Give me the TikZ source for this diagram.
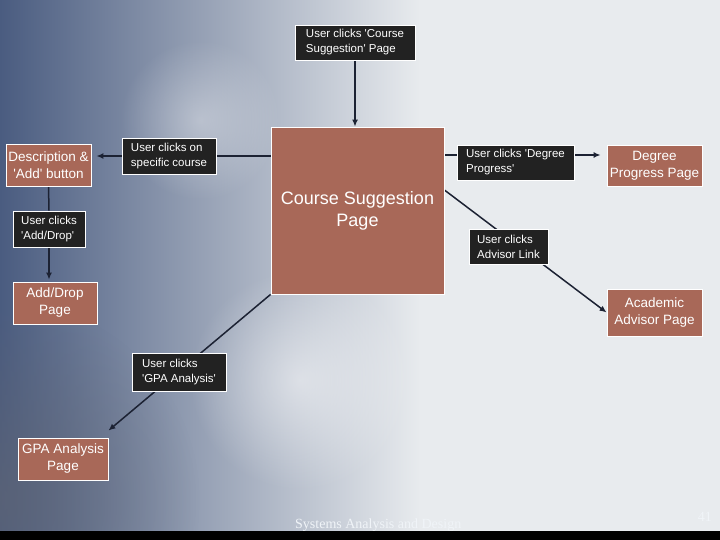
\documentclass[tikz,border=0pt]{standalone}
\usepackage{fontspec}
\setmainfont{Liberation Sans}
\newfontfamily\footserif{Liberation Serif}
\usetikzlibrary{arrows.meta,calc,fadings}
\definecolor{boxred}{HTML}{A86858}
\definecolor{lblfill}{HTML}{222222}
\definecolor{lnc}{HTML}{1C2233}
\definecolor{bglight}{HTML}{E8EBEE}
\definecolor{bgdark}{HTML}{4A5C80}
\definecolor{bgblue}{HTML}{9CB4D2}
\definecolor{bggray}{HTML}{5E6474}
\newcommand\myq{\textquotesingle}
\tikzfading[name=softcirc, inner color=transparent!0, outer color=transparent!100]
\pgfdeclarelayer{bglayer}
\pgfdeclarelayer{linelayer}
\pgfsetlayers{bglayer,linelayer,main}
\tikzset{
  pagebox/.style={draw=white, line width=0.8pt, fill=boxred, text=white,
    font=\fontsize{13.5}{17}\selectfont, align=center, inner sep=0pt},
  lblbox/.style={draw=white, line width=0.8pt, fill=lblfill, text=white,
    font=\fontsize{11.5}{15}\selectfont, align=left, inner sep=0pt},
  conn/.style={draw=lnc, line width=1.5pt},
  arr/.style={conn, -{Latex[length=7pt,width=6pt]}}
}
\begin{document}
\begin{tikzpicture}[x=1pt,y=-1pt]
\useasboundingbox (0,0) rectangle (720,540);
\begin{pgfonlayer}{bglayer}
  \begin{scope}
  \clip (0,0) rectangle (720,531);
  \fill[bglight] (0,0) rectangle (720,540);
  \shade[left color=bgdark, middle color=bgblue, right color=bglight] (0,0) rectangle (420,531);
  \fill[bggray, opacity=0.7, path fading=softcirc] (0,500) circle[radius=200];
  \fill[white, opacity=0.5, path fading=softcirc] (300,380) circle[radius=110];
  \fill[white, opacity=0.35, path fading=softcirc] (200,120) circle[radius=80];
  \end{scope}
  \fill[black] (0,531) rectangle (720,540);
\end{pgfonlayer}

% nodes
\node[lblbox, minimum width=120pt, minimum height=35pt] (top) at (355,42.5)
  {User clicks \myq Course\\Suggestion\myq{} Page};
\node[pagebox, minimum width=173pt, minimum height=167pt,
  font=\fontsize{18}{22}\selectfont] (cs) at (357.5,210.5) {Course Suggestion\\Page};
\node[lblbox, minimum width=94pt, minimum height=36pt] (lspec) at (169,156)
  {User clicks on\\specific course};
\node[pagebox, minimum width=85pt, minimum height=42pt] (desc) at (48.5,165)
  {Description \&\\\myq Add\myq{} button};
\node[lblbox, minimum width=72pt, minimum height=36pt] (ladd) at (49,229)
  {User clicks\\\myq Add/Drop\myq};
\node[pagebox, minimum width=84pt, minimum height=42pt] (adddrop) at (55,303)
  {Add/Drop\\Page};
\node[lblbox, minimum width=117pt, minimum height=35pt] (ldeg) at (515.5,162.5)
  {User clicks \myq Degree\\Progress\myq};
\node[pagebox, minimum width=95pt, minimum height=41pt] (deg) at (654.5,165.5)
  {Degree\\Progress Page};
\node[lblbox, minimum width=79pt, minimum height=35pt] (ladv) at (508.5,246.5)
  {User clicks\\Advisor Link};
\node[pagebox, minimum width=95pt, minimum height=47pt] (acad) at (654.5,312.5)
  {Academic\\Advisor Page};
\node[lblbox, minimum width=94pt, minimum height=38pt] (lgpa) at (179,372)
  {User clicks\\\myq GPA Analysis\myq};
\node[pagebox, minimum width=90pt, minimum height=42pt] (gpa) at (63,459)
  {GPA Analysis\\Page};

% connectors
\begin{pgfonlayer}{linelayer}
  \draw[arr] (top.south) -- (top.south |- cs.north);
  \draw[conn] (cs.west |- lspec) -- (lspec.east);
  \draw[arr, shorten >=5pt] (lspec.west) -- (lspec.west -| desc.east);
  \draw[conn] (desc.south) -- (ladd.north);
  \draw[arr, shorten >=2pt] (ladd.south) -- (ladd.south |- adddrop.north);
  \draw[conn] (cs.east |- 0,155) -- (ldeg.west |- 0,155);
  \draw[arr, shorten >=6pt] (ldeg.east |- 0,155) -- (deg.west |- 0,155);
  \draw[arr] (cs.east |- 0,190) -- (acad.west);
  \draw[arr] (cs.south west) -- ($(gpa.north east)+(0,-7)$);
\end{pgfonlayer}

% footer
\node[anchor=base west, inner sep=0pt, font=\footserif\fontsize{14}{14}\selectfont,
  text=white!85!bgblue] (foot) at (295,528) {Systems Analysis and Design};
\node[anchor=base east, inner sep=0pt, font=\footserif\fontsize{14}{14}\selectfont,
  text=white!85!bgblue] (pnum) at (712,521) {41};
\end{tikzpicture}
\end{document}
